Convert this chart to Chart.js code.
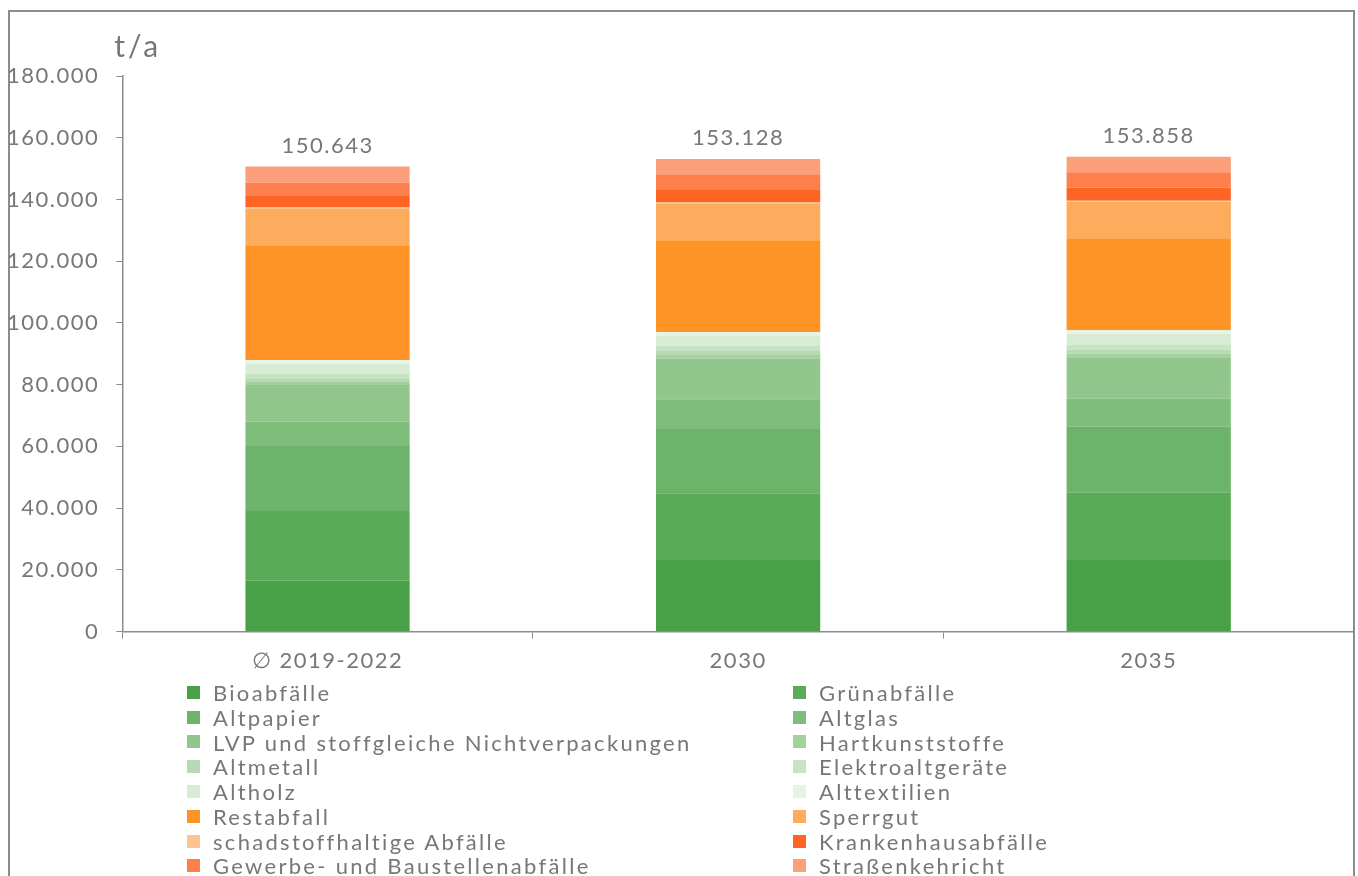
<!DOCTYPE html>
<html lang="de">
<head>
<meta charset="utf-8">
<title>Abfallmengen</title>
<script src="https://cdn.jsdelivr.net/npm/chart.js@4.4.1/dist/chart.umd.min.js"></script>
<style>
  body { margin: 0; background: #fff; font-family: 'Lato', sans-serif; overflow: hidden; }
  #frame {
    position: absolute; left: 8px; top: 10px; width: 1343px; height: 900px;
    border: 2px solid #8c8c8c; border-bottom: none;
  }
  #wrap { position: absolute; left: -10px; top: 0; width: 1368px; height: 686px; }
  #legend {
    position: absolute; left: 187px; top: 680px; width: 1100px;
    display: grid; grid-template-columns: 606px 480px; grid-auto-rows: 24.8px;
    color: #777; font-size: 22px; letter-spacing: 2.3px;
  }
  .item { display: flex; align-items: center; white-space: nowrap; }
  .box { width: 13px; height: 13px; margin-right: 13px; flex: none; }
</style>
</head>
<body>
<div id="frame"></div>
<div id="wrap"><canvas id="waste_chart"></canvas></div>
<div id="legend"></div>
<script>
const categories = ['\u2205 2019-2022', '2030', '2035'];

// t/a je Fraktion
const bioabfaelle = [16500, 23200, 23200];
const gruenabfaelle = [22600, 21600, 21800];
const altpapier = [21000, 20800, 21400];
const altglas = [7900, 9700, 9000];
const lvp = [11900, 13200, 13500];
const hartkunststoffe = [1000, 1100, 1100];
const altmetall = [1200, 1300, 1300];
const elektroaltgeraete = [1500, 1700, 1700];
const altholz = [3200, 3300, 3400];
const alttextilien = [1200, 1200, 1200];
const restabfall = [36900, 29700, 29800];
const sperrgut = [12200, 11900, 11900];
const schadstoffhaltige = [300, 300, 300];
const krankenhausabfaelle = [3700, 4100, 4300];
const gewerbeabfaelle = [4300, 5100, 4900];
const strassenkehricht = [5243, 4928, 5058];

const yTicks = [0, 20000, 40000, 60000, 80000, 100000, 120000, 140000, 160000, 180000];

const series = [
  { label: 'Bioabfälle', color: '#48a147', data: bioabfaelle },
  { label: 'Grünabfälle', color: '#5aab57', data: gruenabfaelle },
  { label: 'Altpapier', color: '#6cb469', data: altpapier },
  { label: 'Altglas', color: '#7fbd7b', data: altglas },
  { label: 'LVP und stoffgleiche Nichtverpackungen', color: '#91c78d', data: lvp },
  { label: 'Hartkunststoffe', color: '#a5d0a0', data: hartkunststoffe },
  { label: 'Altmetall', color: '#b7d9b3', data: altmetall },
  { label: 'Elektroaltgeräte', color: '#c8e2c5', data: elektroaltgeraete },
  { label: 'Altholz', color: '#d8ebd5', data: altholz },
  { label: 'Alttextilien', color: '#e7f3e5', data: alttextilien },
  { label: 'Restabfall', color: '#fe9426', data: restabfall },
  { label: 'Sperrgut', color: '#fdab5d', data: sperrgut },
  { label: 'schadstoffhaltige Abfälle', color: '#fdc48f', data: schadstoffhaltige },
  { label: 'Krankenhausabfälle', color: '#fe6423', data: krankenhausabfaelle },
  { label: 'Gewerbe- und Baustellenabfälle', color: '#fd804c', data: gewerbeabfaelle },
  { label: 'Straßenkehricht', color: '#fc9f7b', data: strassenkehricht }
];

const fmt = v => v.toLocaleString('de-DE');

// breitere Schrift wie im Original
const spacingPlugin = {
  id: 'spacing',
  beforeUpdate(chart) { chart.ctx.letterSpacing = '1.5px'; },
  beforeDraw(chart) { chart.ctx.letterSpacing = '1.5px'; }
};

const totalsPlugin = {
  id: 'totals',
  afterDatasetsDraw(chart) {
    const ctx = chart.ctx;
    const x = chart.scales.x;
    const y = chart.scales.y;
    ctx.save();
    ctx.fillStyle = '#777';
    ctx.font = '22px Lato';
    ctx.textAlign = 'center';
    ctx.textBaseline = 'bottom';
    categories.forEach((c, i) => {
      let sum = 0;
      series.forEach(s => { sum += s.data[i]; });
      ctx.fillText(fmt(sum), x.getPixelForValue(i), y.getPixelForValue(sum) - 10);
    });
    // Einheit
    ctx.font = '30px Lato';
    ctx.letterSpacing = '3px';
    ctx.textAlign = 'left';
    ctx.textBaseline = 'middle';
    ctx.fillText('t/a', chart.chartArea.left - 8, chart.chartArea.top - 29);
    ctx.restore();
  }
};

const data = {
  labels: categories,
  datasets: series.map(s => ({
    label: s.label,
    data: s.data,
    backgroundColor: s.color,
    borderWidth: 0,
    categoryPercentage: 0.8,
    barPercentage: 0.5
  }))
};

const config = {
  type: 'bar',
  data: data,
  options: {
    responsive: true,
    maintainAspectRatio: false,
    animation: false,
    layout: { padding: { top: 76, left: 0, right: 4, bottom: 3 } },
    plugins: {
      legend: { display: false },
      tooltip: { enabled: false }
    },
    scales: {
      x: {
        stacked: true,
        grid: {
          drawOnChartArea: false,
          tickLength: 7,
          color: '#8c8c8c'
        },
        border: { color: '#8c8c8c', width: 1.5 },
        ticks: { color: '#777', font: { size: 22, family: 'Lato' }, padding: 9 }
      },
      y: {
        stacked: true,
        min: 0,
        max: 180000,
        afterBuildTicks: axis => { axis.ticks = yTicks.map(v => ({ value: v })); },
        grid: {
          drawOnChartArea: false,
          tickLength: 6,
          color: '#8c8c8c'
        },
        border: { color: '#8c8c8c', width: 1.5 },
        ticks: {
          color: '#777',
          font: { size: 22, family: 'Lato' },
          padding: 17,
          callback: v => fmt(v)
        }
      }
    }
  },
  plugins: [spacingPlugin, totalsPlugin]
};

new Chart(document.getElementById('waste_chart'), config);

// Legende in zwei Spalten
const legend = document.getElementById('legend');
series.forEach(s => {
  const item = document.createElement('div');
  item.className = 'item';
  const box = document.createElement('span');
  box.className = 'box';
  box.style.background = s.color;
  const txt = document.createElement('span');
  txt.textContent = s.label;
  item.appendChild(box);
  item.appendChild(txt);
  legend.appendChild(item);
});
</script>
</body>
</html>
